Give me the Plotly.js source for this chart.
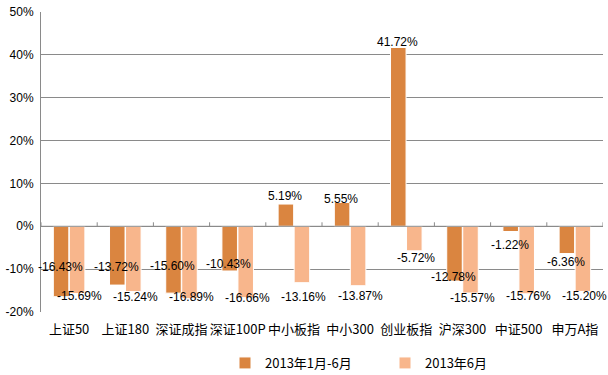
<!DOCTYPE html>
<html>
<head>
<meta charset="utf-8">
<script src="https://cdn.plot.ly/plotly-3.0.1.min.js"></script>
<style>html,body{margin:0;padding:0;background:#fff}#chart{width:608px;height:375px}</style>
</head>
<body>
<div id="chart"></div>
<script>
const categories = ['上证50','上证180','深证成指','深证100P','中小板指','中小300','创业板指','沪深300','中证500','申万A指'];
const seriesNames = ['2013年1月-6月','2013年6月'];
const halfYear = [-16.43,-13.72,-15.60,-10.43,5.19,5.55,41.72,-12.78,-1.22,-6.36];
const june = [-15.69,-15.24,-16.89,-16.66,-13.16,-13.87,-5.72,-15.57,-15.76,-15.20];
const yTicks = [-20,-10,0,10,20,30,40,50];

// label nudges in pixels (styling only)
const halfShift = [30,18,27,7,8,4,5,4,-13,-8];
const juneShift = [-2,-5,2,0,-14,-10,-7,-5,-2,-5];

const colors = ['#DA8540','#F8B68C'];

const traces = [halfYear, june].map((vals,i)=>({
  type:'bar', x:categories, y:vals, name:seriesNames[i],
  marker:{color:colors[i], line:{color:'#ffffff', width:1}},
  hoverinfo:'none'
}));

const annotations = [];
[halfYear, june].forEach((vals,s)=>{
  const shifts = s===0 ? halfShift : juneShift;
  vals.forEach((v,i)=>{
    annotations.push({
      x:categories[i], y:v, xref:'x', yref:'y',
      text:v.toFixed(2)+'%', showarrow:false,
      xshift: s===0 ? -9 : 10, yshift: shifts[i],
      yanchor:'middle', xanchor:'center',
      font:{family:'Liberation Sans, Arial, sans-serif', size:12, color:'#000'}
    });
  });
});

// small tick marks on the category axis at zero
const shapes = [];
for(let i=0;i<=categories.length;i++){
  shapes.push({type:'line', xref:'x', yref:'y', x0:i-0.5, x1:i-0.5,
    ysizemode:'pixel', yanchor:0, y0:0, y1:4,
    line:{color:'#8a8a8a', width:1}});
}
shapes.push({type:'line', xref:'paper', yref:'y', x0:0, x1:1, y0:0, y1:0, line:{color:'#8a8a8a', width:1}});

const layout = {
  width:608, height:375,
  margin:{l:41, r:5, t:12, b:63, autoexpand:false},
  paper_bgcolor:'#fff', plot_bgcolor:'#fff',
  barmode:'group', bargap:0.43, bargroupgap:0.03,
  showlegend:true,
  legend:{orientation:'h', x:(242-17)/608, xanchor:'left', xref:'container', y:0.032, yref:'container', yanchor:'middle',
    font:{family:'Noto Sans CJK SC, sans-serif', size:13, color:'#000'},
    entrywidth:115, entrywidthmode:'pixels', traceorder:'normal'},
  xaxis:{
    type:'category', showgrid:false, showline:false, zeroline:false, ticks:'', automargin:false,
    ticklabelstandoff:8,
    tickfont:{family:'Noto Sans CJK SC, sans-serif', size:13, color:'#000'},
    range:[-0.5, categories.length-0.5]
  },
  yaxis:{
    range:[-20,50], tickvals:yTicks, ticktext:yTicks.map(v=>v+'%'), automargin:false,
    showgrid:true, gridcolor:'#8a8a8a', gridwidth:1,
    zeroline:false, showline:true, linecolor:'#8a8a8a', linewidth:1,
    ticks:'', ticklabelstandoff:4,
    tickfont:{family:'Liberation Sans, Arial, sans-serif', size:12, color:'#000'}
  },
  annotations:annotations,
  shapes:shapes
};

Plotly.newPlot('chart', traces, layout, {displayModeBar:false, staticPlot:true});
</script>
</body>
</html>
